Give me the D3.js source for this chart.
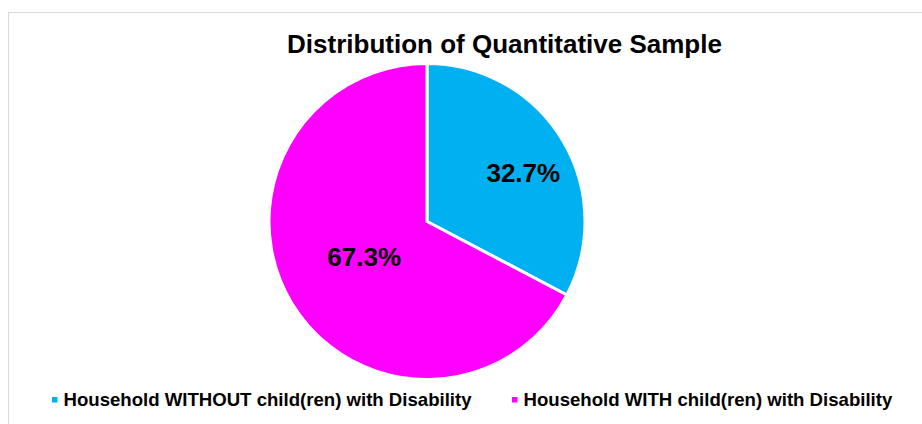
<!DOCTYPE html>
<html><head><meta charset="utf-8">
<script src="https://cdn.jsdelivr.net/npm/d3@7"></script>
<style>body{margin:0;background:#fff;}svg{display:block;font-family:"Liberation Sans",Arial,sans-serif;}</style>
</head><body>
<svg id="c" width="922" height="424"></svg>
<script>
const categories = ["Household WITHOUT child(ren) with Disability", "Household WITH child(ren) with Disability"];
const values = [32.7, 67.3];
const colors = ["#00B0F0", "#FF00FF"];
const title = "Distribution of Quantitative Sample";

const svg = d3.select("#c");
svg.append("rect").attr("x",8.5).attr("y",12.5).attr("width",940).attr("height",440)
  .attr("fill","#fff").attr("stroke","#d9d9d9").attr("stroke-width",1);

svg.append("text").attr("x",504.5).attr("y",53).attr("text-anchor","middle")
  .attr("font-size",26).attr("font-weight","bold").attr("fill","#000").text(title);

const cx = 427, cy = 221.5, r = 158;
const pie = d3.pie().sort(null).value(d=>d);
const arcs = pie(values);
const arc = d3.arc().innerRadius(0).outerRadius(r);
const g = svg.append("g").attr("transform",`translate(${cx},${cy})`);
g.selectAll("path").data(arcs).join("path")
  .attr("d",arc).attr("fill",(d,i)=>colors[i]).attr("stroke","#fff").attr("stroke-width",3).attr("stroke-linejoin","round");

// label placement (Excel best-fit style): radial fraction and small angular shift per slice
const labRad = [0.685, 0.455], labShift = [4, 2];
g.selectAll("text").data(arcs).join("text")
  .attr("transform",(d,i)=>{
    const a = (d.startAngle + d.endAngle)/2 + labShift[i]*Math.PI/180;
    const rr = r*labRad[i];
    return `translate(${rr*Math.sin(a)},${-rr*Math.cos(a)})`;
  })
  .attr("text-anchor","middle").attr("dy","0.36em")
  .attr("font-size",26).attr("font-weight","bold").attr("fill","#000")
  .text(d=>d.value.toFixed(1)+"%");

const legX = [52, 512];
const lg = svg.append("g");
categories.forEach((c,i)=>{
  lg.append("rect").attr("x",legX[i]).attr("y",397).attr("width",5.5).attr("height",5.5).attr("fill",colors[i]);
  lg.append("text").attr("x",legX[i]+11.5).attr("y",405.5).attr("font-size",18.6).attr("font-weight","bold").attr("fill","#000").text(c);
});
</script>
</body></html>
